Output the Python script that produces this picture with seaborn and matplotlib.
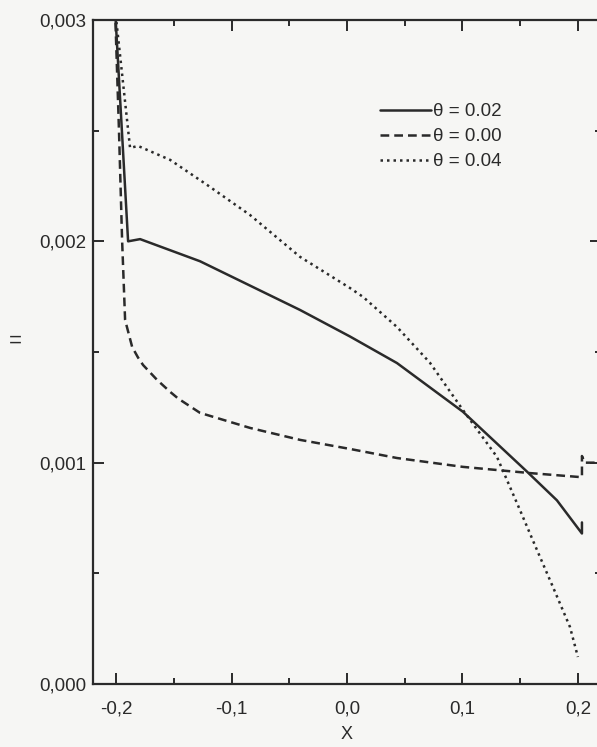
import numpy as np
import pandas as pd
import seaborn as sns
import matplotlib.pyplot as plt
from matplotlib.ticker import MultipleLocator, FuncFormatter

# curve for theta = 0.02 (solid)
x_t002 = [-0.2009, -0.1896, -0.1792, -0.1273, -0.0840, -0.0407, 0.0026, 0.0433,
          0.1004, 0.1558, 0.1818, 0.2035, 0.2035]
y_t002 = [0.00305, 0.00200, 0.00201, 0.00191, 0.00180, 0.00169, 0.00157, 0.00145,
          0.00123, 0.00096, 0.00083, 0.00068, 0.00073]

# curve for theta = 0.00 (dashed)
x_t000 = [-0.2009, -0.1975, -0.1948, -0.1922, -0.1861, -0.1810, -0.1766, -0.1645,
          -0.1532, -0.1463, -0.1273, -0.1050, -0.0840, -0.0407, 0.0026, 0.0433,
          0.1004, 0.1584, 0.2017, 0.2035, 0.2035, 0.2060, 0.2200]
y_t000 = [0.00305, 0.00250, 0.002006, 0.001645, 0.001523, 0.001475, 0.001441, 0.001374,
          0.001320, 0.001290, 0.001225, 0.001190, 0.001157, 0.001103, 0.001062, 0.001021,
          0.000981, 0.000953, 0.000935, 0.000935, 0.001030, 0.001000, 0.001000]

# curve for theta = 0.04 (dotted)
x_t004 = [-0.2009, -0.1879, -0.1810, -0.1532, -0.1212, -0.0840, -0.0407, 0.0026,
          0.0139, 0.0433, 0.0719, 0.1004, 0.1299, 0.1498, 0.1645, 0.1784, 0.1931, 0.2000]
y_t004 = [0.00305, 0.002422, 0.002431, 0.002368, 0.002255, 0.002119, 0.001930, 0.001789,
          0.001749, 0.001613, 0.001451, 0.001238, 0.001026, 0.000786, 0.000606, 0.000438,
          0.000258, 0.000122]

x_ticks = [-0.2, -0.1, 0.0, 0.1, 0.2]
y_ticks = [0.000, 0.001, 0.002, 0.003]

sns.set_style("ticks")
plt.rcParams['font.family'] = ['Liberation Sans', 'DejaVu Sans']

fig = plt.figure(figsize=(5.97, 7.47), dpi=100, facecolor='#f6f6f4')
ax = fig.add_axes([93 / 597, 63 / 747, 508 / 597, 664 / 747])
ax.set_facecolor('#f6f6f4')

ink = '#2a2a2a'
sns.lineplot(x=x_t002, y=y_t002, sort=False, estimator=None, ax=ax,
             color=ink, lw=1.8, label='θ = 0.02')
sns.lineplot(x=x_t000, y=y_t000, sort=False, estimator=None, ax=ax,
             color=ink, lw=1.8, label='θ = 0.00')
sns.lineplot(x=x_t004, y=y_t004, sort=False, estimator=None, ax=ax,
             color=ink, lw=1.8, label='θ = 0.04')
ax.lines[1].set_dashes([3.5, 2])
ax.lines[2].set_dashes([1, 1.6])

ax.set_xlim(-0.22, 0.22)
ax.set_ylim(0, 0.003)
ax.set_xticks(x_ticks)
ax.set_yticks(y_ticks)
ax.xaxis.set_minor_locator(MultipleLocator(0.05))
ax.yaxis.set_minor_locator(MultipleLocator(0.0005))
ax.xaxis.set_major_formatter(FuncFormatter(lambda v, p: f"{v:.1f}".replace('.', ',')))
ax.yaxis.set_major_formatter(FuncFormatter(lambda v, p: f"{v:.3f}".replace('.', ',')))
ax.tick_params(which='both', direction='in', top=True, right=True, colors=ink,
               labelsize=13.5, width=1.4)
ax.tick_params(which='major', length=8)
ax.tick_params(axis='x', which='major', pad=12)
ax.tick_params(axis='y', which='major', pad=5)
ax.tick_params(which='minor', length=4)
for s in ax.spines.values():
    s.set_color(ink)
    s.set_linewidth(1.6)

ax.set_xlabel('X', fontsize=13, color=ink)
ax.set_ylabel('=', fontsize=16, color=ink, rotation=0)
ax.xaxis.set_label_coords(0.5, -0.064)
ax.yaxis.set_label_coords(-0.152, 0.5)

leg = ax.legend(loc='upper left', bbox_to_anchor=(0.532, 0.9), frameon=False,
                fontsize=13.5, handlelength=2.7, handletextpad=0.1, labelspacing=0.42,
                labelcolor=ink)

fig.savefig('out.png', dpi=100, facecolor=fig.get_facecolor())
